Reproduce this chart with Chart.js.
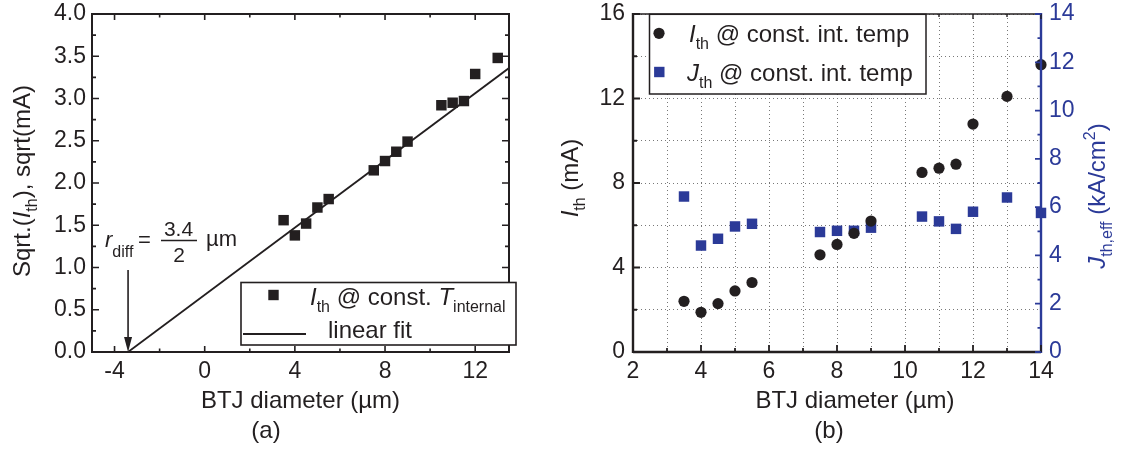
<!DOCTYPE html>
<html>
<head>
<meta charset="utf-8">
<script src="https://cdn.jsdelivr.net/npm/chart.js@4.4.1/dist/chart.umd.min.js"></script>
<style>
  html, body { margin: 0; padding: 0; background: #fff; }
  #wrap { position: relative; width: 1132px; height: 450px; overflow: hidden; background: #fff; }
  canvas { position: absolute; top: 0; }
  #cA { left: 0; }
  #cB { left: 560px; }
</style>
</head>
<body>
<div id="wrap">
  <canvas id="cA" width="560" height="450"></canvas>
  <canvas id="cB" width="572" height="450"></canvas>
</div>
<script>
// ---- panel (a): sqrt of threshold current vs BTJ diameter ----
const diamA = [3.5, 4, 4.5, 5, 5.5, 7.5, 8, 8.5, 9, 10.5, 11, 11.5, 12, 13];
const sqrtIthA = [1.56, 1.38, 1.52, 1.71, 1.81, 2.15, 2.26, 2.37, 2.49, 2.92, 2.95, 2.97, 3.29, 3.48];
const rDiffDiameter = 3.4;               // x-intercept of the fit (2 * r_diff)
const fitX = [-rDiffDiameter, 13.5];
const fitY = [0, 3.36];
const arrowFromY = 0.97;                 // arrow tail height on the sqrt axis
const xLabelsA = [-4, 0, 4, 8, 12];
const xMinorA = [-2, 2, 6, 10];
const yMajorA = [0, 0.5, 1, 1.5, 2, 2.5, 3, 3.5, 4];
const yMinorA = [0.25, 0.75, 1.25, 1.75, 2.25, 2.75, 3.25, 3.75];

// ---- panel (b): threshold current and current density ----
const diamB = [3.5, 4, 4.5, 5, 5.5, 7.5, 8, 8.5, 9, 10.5, 11, 11.5, 12, 13, 14];
const ithB = [2.40, 1.88, 2.29, 2.89, 3.29, 4.60, 5.09, 5.62, 6.20, 8.50, 8.70, 8.89, 10.79, 12.10, 13.60];
const jthB = [6.44, 4.41, 4.69, 5.20, 5.31, 4.97, 5.02, 5.02, 5.15, 5.61, 5.41, 5.10, 5.81, 6.40, 5.76];
const xGridB = [2, 3, 4, 5, 6, 7, 8, 9, 10, 11, 12, 13, 14];
const xLabelsB = [2, 4, 6, 8, 10, 12, 14];
const xMinorB = [3, 5, 7, 9, 11, 13];
const yGridB = [0, 2, 4, 6, 8, 10, 12, 14, 16];
const yLabelsB = [0, 4, 8, 12, 16];
const yMinorB = [2, 6, 10, 14];
const y2LabelsB = [0, 2, 4, 6, 8, 10, 12, 14];
const y2MinorB = [1, 3, 5, 7, 9, 11, 13];

const FONT = '"Liberation Sans", Arial, Helvetica, sans-serif';
const INK = '#231f20';
const BLUE = '#2b3a98';
const GRID = '#787878';

Chart.defaults.font.family = FONT;

// ---------- text helpers (italics, subscripts, superscripts) ----------
function fontOf(size, italic) { return (italic ? 'italic ' : '') + size + 'px ' + FONT; }
function partSize(p, o) { return p.sub ? o.sub : (p.sup ? o.sup : o.size); }
function richWidth(ctx, parts, o) {
  let w = 0;
  for (const p of parts) { ctx.font = fontOf(partSize(p, o), p.it); w += ctx.measureText(p.t).width; }
  return w;
}
function drawRich(ctx, parts, x, y, o) {
  ctx.save();
  ctx.fillStyle = o.color || INK;
  ctx.textAlign = 'left';
  ctx.textBaseline = 'alphabetic';
  let cx = x;
  for (const p of parts) {
    ctx.font = fontOf(partSize(p, o), p.it);
    const dy = p.sub ? o.subShift : (p.sup ? -o.supShift : 0);
    ctx.fillText(p.t, cx, y + dy);
    cx += ctx.measureText(p.t).width;
  }
  ctx.restore();
  return cx;
}
function drawCentered(ctx, parts, cx, y, o) {
  drawRich(ctx, parts, cx - richWidth(ctx, parts, o) / 2, y, o);
}
function drawRotated(ctx, parts, baseX, cy, o) {
  const w = richWidth(ctx, parts, o);
  ctx.save();
  ctx.translate(baseX, cy);
  ctx.rotate(-Math.PI / 2);
  drawRich(ctx, parts, -w / 2, 0, o);
  ctx.restore();
}
const TXT = { size: 24, sub: 16, sup: 16, subShift: 7, supShift: 10 };

// ---------- inward tick marks on a given side of the plot frame ----------
function tickMarks(ctx, scale, values, len, side, area, color, width) {
  ctx.save();
  ctx.strokeStyle = color;
  ctx.lineWidth = width;
  ctx.beginPath();
  for (const v of values) {
    const p = scale.getPixelForValue(v);
    if (side === 'bottom') { ctx.moveTo(p, area.bottom); ctx.lineTo(p, area.bottom - len); }
    if (side === 'top') { ctx.moveTo(p, area.top); ctx.lineTo(p, area.top + len); }
    if (side === 'left') { ctx.moveTo(area.left, p); ctx.lineTo(area.left + len, p); }
    if (side === 'right') { ctx.moveTo(area.right, p); ctx.lineTo(area.right - len, p); }
  }
  ctx.stroke();
  ctx.restore();
}
function seg(ctx, x1, y1, x2, y2, color, width) {
  ctx.save();
  ctx.strokeStyle = color; ctx.lineWidth = width;
  ctx.beginPath(); ctx.moveTo(x1, y1); ctx.lineTo(x2, y2); ctx.stroke();
  ctx.restore();
}
const setTicks = values => scale => { scale.ticks = values.map(v => ({ value: v })); };

const xTickFont = { size: 23, family: FONT, lineHeight: 1.2 };
const yTickFont = { size: 23, family: FONT, lineHeight: 0.4 };

// ======================= panel (a) =======================
const panelA = {
  id: 'panelA',
  afterDatasetsDraw(chart) {
    const { ctx, chartArea: a } = chart;
    const xs = chart.scales.x, ys = chart.scales.y;
    ctx.save();
    ctx.strokeStyle = INK; ctx.lineWidth = 2;
    ctx.strokeRect(a.left, a.top, a.right - a.left, a.bottom - a.top);
    ctx.restore();
    for (const side of ['bottom', 'top']) {
      tickMarks(ctx, xs, xLabelsA, 6, side, a, INK, 1.6);
      tickMarks(ctx, xs, xMinorA, 3.5, side, a, INK, 1.6);
    }
    for (const side of ['left', 'right']) {
      tickMarks(ctx, ys, yMajorA, 7, side, a, INK, 1.6);
      tickMarks(ctx, ys, yMinorA, 4, side, a, INK, 1.6);
    }
  },
  afterDraw(chart) {
    const { ctx } = chart;
    const xs = chart.scales.x, ys = chart.scales.y;

    // arrow marking the fit intercept
    const ax = xs.getPixelForValue(-rDiffDiameter);
    const yTop = ys.getPixelForValue(arrowFromY);
    const yBot = ys.getPixelForValue(0);
    seg(ctx, ax, yTop, ax, yBot - 12, INK, 1.6);
    ctx.save();
    ctx.fillStyle = INK;
    ctx.beginPath();
    ctx.moveTo(ax - 4, yBot - 15); ctx.lineTo(ax + 4, yBot - 15); ctx.lineTo(ax, yBot);
    ctx.closePath(); ctx.fill();
    ctx.restore();

    // r_diff = 3.4 / 2 µm
    const ann = { size: 22, sub: 16, sup: 16, subShift: 10, supShift: 10 };
    drawRich(ctx, [{ t: 'r', it: true }, { t: 'diff', sub: true }], 105, 247, ann);
    drawRich(ctx, [{ t: '=' }], 138, 247, ann);
    const frac = { size: 21, sub: 16, sup: 16, subShift: 0, supShift: 0 };
    drawCentered(ctx, [{ t: String(rDiffDiameter) }], 178.5, 236, frac);
    seg(ctx, 161, 240.5, 197, 240.5, INK, 1.5);
    drawCentered(ctx, [{ t: '2' }], 179, 262, frac);
    drawRich(ctx, [{ t: 'µm' }], 206, 246, ann);

    // legend
    ctx.save();
    ctx.fillStyle = '#fff';
    ctx.fillRect(241, 282.5, 275, 62.5);
    ctx.strokeStyle = INK; ctx.lineWidth = 1.6;
    ctx.strokeRect(241, 282.5, 275, 62.5);
    ctx.fillStyle = INK;
    ctx.fillRect(273.5 - 5.2, 295 - 5.2, 10.4, 10.4);
    ctx.restore();
    drawRich(ctx, [{ t: 'I', it: true }, { t: 'th', sub: true }, { t: ' @ const. ' },
                   { t: 'T', it: true }, { t: 'internal', sub: true }], 310, 305, TXT);
    seg(ctx, 243, 334, 306, 334, INK, 1.8);
    drawRich(ctx, [{ t: 'linear fit' }], 328, 338, TXT);

    // axis titles and panel tag
    drawRotated(ctx, [{ t: 'Sqrt.(' }, { t: 'I', it: true }, { t: 'th', sub: true }, { t: '), sqrt(mA)' }],
                30, 181, TXT);
    drawCentered(ctx, [{ t: 'BTJ diameter (µm)' }], 300.5, 408, TXT);
    drawCentered(ctx, [{ t: '(a)' }], 266, 438, TXT);
  }
};

new Chart(document.getElementById('cA'), {
  type: 'scatter',
  data: {
    datasets: [
      {
        label: 'sqrt Ith',
        data: diamA.map((x, i) => ({ x, y: sqrtIthA[i] })),
        pointStyle: 'rect',
        pointRadius: 7.4,
        pointHoverRadius: 7.4,
        pointBackgroundColor: INK,
        pointBorderWidth: 0,
        showLine: false
      },
      {
        label: 'linear fit',
        type: 'line',
        data: fitX.map((x, i) => ({ x, y: fitY[i] })),
        showLine: true,
        borderColor: INK,
        borderWidth: 1.8,
        pointRadius: 0,
        fill: false,
        tension: 0
      }
    ]
  },
  options: {
    responsive: false,
    animation: false,
    devicePixelRatio: 1,
    events: [],
    layout: { padding: { top: 14, right: 51, left: 0, bottom: 0 } },
    plugins: { legend: { display: false }, tooltip: { enabled: false }, title: { display: false } },
    scales: {
      x: {
        type: 'linear', position: 'bottom', min: -5, max: 13.5,
        afterBuildTicks: setTicks(xLabelsA),
        afterFit: s => { s.height = 98; },
        grid: { display: false, drawTicks: false },
        border: { display: false },
        ticks: {
          autoSkip: false, maxRotation: 0, padding: 5.5, color: INK, font: xTickFont,
          callback: v => String(v)
        }
      },
      y: {
        type: 'linear', position: 'left', min: 0, max: 4,
        afterBuildTicks: setTicks(yMajorA),
        afterFit: s => { s.width = 92; },
        grid: { display: false, drawTicks: false },
        border: { display: false },
        ticks: {
          autoSkip: false, padding: 6, color: INK, font: yTickFont,
          callback: v => v.toFixed(1)
        }
      }
    }
  },
  plugins: [panelA]
});

// ======================= panel (b) =======================
const OX = 560; // page offset of panel (b) canvas
const panelB = {
  id: 'panelB',
  afterDatasetsDraw(chart) {
    const { ctx, chartArea: a } = chart;
    const xs = chart.scales.x, ys = chart.scales.y, y2 = chart.scales.y2;
    // frame
    seg(ctx, a.left, a.top, a.right, a.top, INK, 1.6);
    seg(ctx, a.left, a.bottom, a.right, a.bottom, INK, 2.4);
    seg(ctx, a.left, a.top - 1, a.left, a.bottom + 1, INK, 2.4);
    seg(ctx, a.right, a.top - 1, a.right, a.bottom + 1, BLUE, 2.4);
    // ticks
    tickMarks(ctx, xs, xLabelsB, 7, 'bottom', a, INK, 1.8);
    tickMarks(ctx, xs, xMinorB, 4, 'bottom', a, INK, 1.8);
    tickMarks(ctx, xs, xLabelsB, 5, 'top', a, INK, 1.4);
    tickMarks(ctx, xs, xMinorB, 3, 'top', a, INK, 1.4);
    tickMarks(ctx, ys, yLabelsB, 7, 'left', a, INK, 1.8);
    tickMarks(ctx, ys, yMinorB, 4, 'left', a, INK, 1.8);
    tickMarks(ctx, y2, y2LabelsB, 6, 'right', a, BLUE, 1.8);
    tickMarks(ctx, y2, y2MinorB, 3.5, 'right', a, BLUE, 1.8);
  },
  afterDraw(chart) {
    const { ctx } = chart;
    // legend
    const lx = 649.5 - OX, ly = 14.3, lw = 276.5, lh = 79.7;
    ctx.save();
    ctx.fillStyle = '#fff';
    ctx.fillRect(lx, ly, lw, lh);
    ctx.strokeStyle = INK; ctx.lineWidth = 1.5;
    ctx.strokeRect(lx, ly, lw, lh);
    ctx.fillStyle = INK;
    ctx.beginPath(); ctx.arc(659 - OX, 33.3, 5.6, 0, Math.PI * 2); ctx.fill();
    ctx.fillStyle = BLUE;
    ctx.fillRect(659.3 - OX - 5.2, 72 - 5.2, 10.4, 10.4);
    ctx.restore();
    drawRich(ctx, [{ t: 'I', it: true }, { t: 'th', sub: true }, { t: ' @ const. int. temp' }],
             689 - OX, 42, TXT);
    drawRich(ctx, [{ t: 'J', it: true }, { t: 'th', sub: true }, { t: ' @ const. int. temp' }],
             687 - OX, 80.5, TXT);

    // axis titles and panel tag
    drawRotated(ctx, [{ t: 'I', it: true }, { t: 'th', sub: true }, { t: ' (mA)' }], 578 - OX, 178, TXT);
    drawRotated(ctx, [{ t: 'J', it: true }, { t: 'th,eff', sub: true }, { t: ' (kA/cm' }, { t: '2', sup: true }, { t: ')' }],
                1105 - OX, 196, Object.assign({}, TXT, { color: BLUE }));
    drawCentered(ctx, [{ t: 'BTJ diameter (µm)' }], 855 - OX, 408, TXT);
    drawCentered(ctx, [{ t: '(b)' }], 829 - OX, 438, TXT);
  }
};

const gridB = { display: true, drawTicks: false, color: GRID, lineWidth: 1 };

new Chart(document.getElementById('cB'), {
  type: 'scatter',
  data: {
    datasets: [
      {
        label: 'Ith @ const. int. temp',
        data: diamB.map((x, i) => ({ x, y: ithB[i] })),
        yAxisID: 'y',
        pointStyle: 'circle',
        pointRadius: 5.6,
        pointHoverRadius: 5.6,
        pointBackgroundColor: INK,
        pointBorderWidth: 0,
        clip: false
      },
      {
        label: 'Jth @ const. int. temp',
        data: diamB.map((x, i) => ({ x, y: jthB[i] })),
        yAxisID: 'y2',
        pointStyle: 'rect',
        pointRadius: 7.4,
        pointHoverRadius: 7.4,
        pointBackgroundColor: BLUE,
        pointBorderWidth: 0,
        clip: false
      }
    ]
  },
  options: {
    responsive: false,
    animation: false,
    devicePixelRatio: 1,
    events: [],
    layout: { padding: { top: 14, right: 0, left: 0, bottom: 0 } },
    plugins: { legend: { display: false }, tooltip: { enabled: false }, title: { display: false } },
    scales: {
      x: {
        type: 'linear', position: 'bottom', min: 2, max: 14,
        afterBuildTicks: setTicks(xGridB),
        afterFit: s => { s.height = 98; },
        grid: gridB,
        border: { display: false, dash: [1, 3] },
        ticks: {
          autoSkip: false, maxRotation: 0, padding: 5.5, color: INK, font: xTickFont,
          callback: v => (xLabelsB.includes(v) ? String(v) : '')
        }
      },
      y: {
        type: 'linear', position: 'left', min: 0, max: 16,
        afterBuildTicks: setTicks(yGridB),
        afterFit: s => { s.width = 73; },
        grid: gridB,
        border: { display: false, dash: [1, 3] },
        ticks: {
          autoSkip: false, padding: 8, color: INK, font: yTickFont,
          callback: v => (yLabelsB.includes(v) ? String(v) : '')
        }
      },
      y2: {
        type: 'linear', position: 'right', min: 0, max: 14,
        afterBuildTicks: setTicks(y2LabelsB),
        afterFit: s => { s.width = 91; },
        grid: { display: false, drawTicks: false, drawOnChartArea: false },
        border: { display: false },
        ticks: {
          autoSkip: false, padding: 8, color: BLUE, font: yTickFont,
          callback: v => String(v)
        }
      }
    }
  },
  plugins: [panelB]
});
</script>
</body>
</html>
